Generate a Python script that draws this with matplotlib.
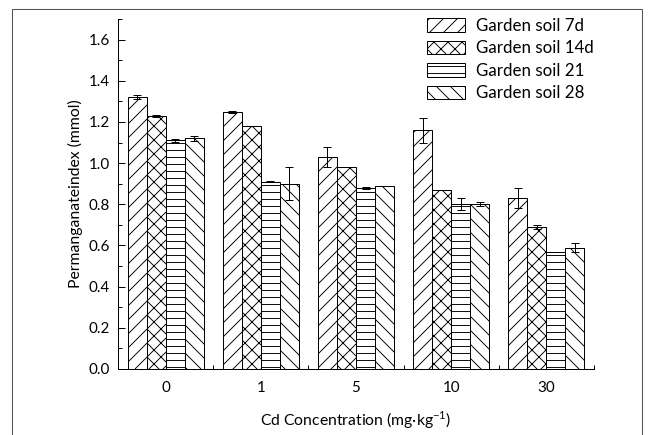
import numpy as np
import matplotlib
matplotlib.use("Agg")
import matplotlib.pyplot as plt
from matplotlib.patches import Rectangle

# Cd treatment levels and permanganate index per sampling day
concentrations = ["0", "1", "5", "10", "30"]
series_names = ["Garden soil 7d", "Garden soil 14d", "Garden soil 21", "Garden soil 28"]
soil_7d = [1.32, 1.25, 1.03, 1.16, 0.83]
soil_14d = [1.23, 1.18, 0.98, 0.87, 0.69]
soil_21 = [1.11, 0.91, 0.88, 0.80, 0.57]
soil_28 = [1.12, 0.90, 0.89, 0.80, 0.59]
err_7d = [0.01, 0.005, 0.05, 0.06, 0.05]
err_14d = [0.005, 0.0, 0.0, 0.0, 0.01]
err_21 = [0.005, 0.004, 0.005, 0.03, 0.0]
err_28 = [0.011, 0.08, 0.0, 0.009, 0.022]

values = [soil_7d, soil_14d, soil_21, soil_28]
errors = [err_7d, err_14d, err_21, err_28]
hatches = ["//", "xx", "--", "\\\\"]

DPI = 84
plt.rcParams["font.family"] = ["Lato", "DejaVu Sans"]
plt.rcParams["mathtext.fontset"] = "custom"
plt.rcParams["mathtext.rm"] = "Lato"
plt.rcParams["hatch.linewidth"] = 0.8

fig = plt.figure(figsize=(650 / DPI, 435 / DPI), dpi=DPI)
ax = fig.add_axes([118 / 650, 1 - 369 / 435, 476 / 650, 350 / 435])

x = np.arange(len(concentrations))
width = 0.2
for i, (vals, errs, h, name) in enumerate(zip(values, errors, hatches, series_names)):
    pos = x + (i - 1.5) * width
    ax.bar(pos, vals, width, facecolor="white", edgecolor="black",
           linewidth=0.85, hatch=h, label=name, zorder=2)
    ax.errorbar(pos, vals, yerr=errs, fmt="none", ecolor="black",
                elinewidth=0.85, capsize=3.4, capthick=0.85, zorder=3)

ax.set_xlim(-0.5, 4.5)
ax.set_ylim(0, 1.7)
ax.set_xticks(x)
ax.set_xticklabels(concentrations)
ax.set_xticks(np.arange(0.5, 5.0, 1.0), minor=True)
ax.set_yticks(np.arange(0, 1.61, 0.2))
ax.set_yticklabels([f"{v:.1f}" for v in np.arange(0, 1.61, 0.2)])
ax.set_yticks(np.arange(0.1, 1.71, 0.2), minor=True)

ax.tick_params(axis="x", which="major", length=0, pad=10, labelsize=13)
ax.tick_params(axis="x", which="minor", direction="in", length=3.5, width=0.85)
ax.tick_params(axis="y", which="major", direction="in", length=6, width=0.85,
               pad=7, labelsize=13)
ax.tick_params(axis="y", which="minor", direction="in", length=3, width=0.85)

for side in ["top", "right"]:
    ax.spines[side].set_visible(False)
for side in ["left", "bottom"]:
    ax.spines[side].set_linewidth(0.85)

ax.set_ylabel("Permanganateindex (mmol)", fontsize=13.5)
ax.yaxis.set_label_coords(-0.074, 0.5)
ax.set_xlabel(r"Cd Concentration (mg·kg$^{-1}$)", fontsize=13.5)
ax.xaxis.set_label_coords(0.5, -0.115)

leg = ax.legend(loc="upper left", bbox_to_anchor=(427 / 650, 1 - 18 / 435),
                bbox_transform=fig.transFigure, frameon=False, fontsize=14.5,
                borderpad=0, borderaxespad=0, handlelength=2.25,
                handleheight=0.83, handletextpad=0.65, labelspacing=0.38)

# thin border around the whole figure
fig.patches.append(Rectangle((12 / 650, -0.05), 630 / 650, 1.05 - 9 / 435,
                             transform=fig.transFigure, fill=False,
                             edgecolor="#555555", linewidth=0.9))

fig.savefig("out.png", dpi=DPI)
